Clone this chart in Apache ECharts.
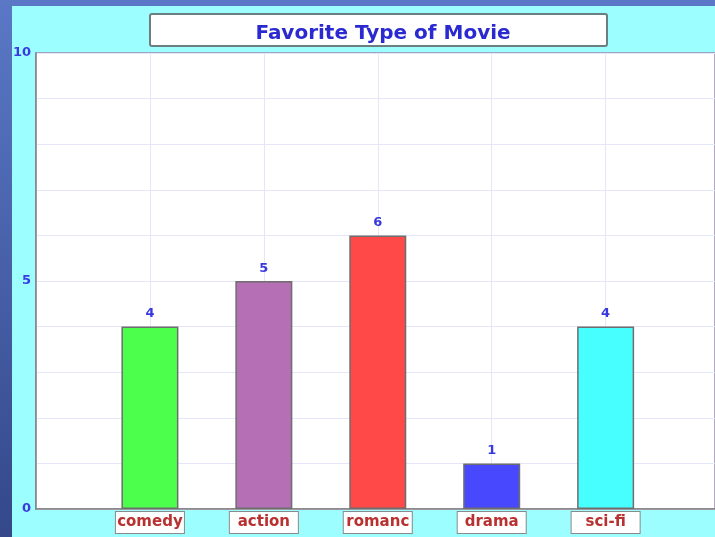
<!DOCTYPE html>
<html>
<head>
<meta charset="utf-8">
<script src="https://cdn.jsdelivr.net/npm/echarts@6/dist/echarts.min.js"></script>
<style>
html,body{margin:0;padding:0;background:#4a64b0;}
#chart{width:715px;height:537px;}
</style>
</head>
<body>
<div id="chart"></div>
<script>
const titleText = 'Favorite Type of Movie';
const categories = ['comedy', 'action', 'romance', 'drama', 'sci-fi'];
const values = [4, 5, 6, 1, 4];
const yTickLabels = [0, 5, 10];
const barColors = ['#4cff4c', '#b56fb5', '#ff4848', '#4848ff', '#48ffff'];

const FONT = 'DejaVu Sans, Verdana, sans-serif';
const chart = echarts.init(document.getElementById('chart'), null, {renderer: 'canvas'});

const option = {
  animation: false,
  backgroundColor: new echarts.graphic.LinearGradient(0, 0, 0, 1, [
    {offset: 0, color: '#5a78c6'},
    {offset: 1, color: '#34488a'}
  ]),
  graphic: [
    {type: 'rect', z: -10, shape: {x: 12, y: 6, width: 720, height: 540}, style: {fill: '#9cfeff'}},
    {type: 'rect', z: 5, shape: {x: 150, y: 14, width: 457, height: 32, r: 2},
     style: {fill: '#ffffff', stroke: '#6c7f80', lineWidth: 2}}
  ],
  title: {
    text: titleText,
    left: 378,
    top: 19,
    textAlign: 'center',
    z: 10,
    textStyle: {fontFamily: FONT, fontWeight: 'bold', fontSize: 20, color: '#2a2ad0'}
  },
  grid: {
    left: 36, top: 53, right: 0, bottom: 28,
    show: true, backgroundColor: '#ffffff', borderColor: '#9a8aaa', borderWidth: 1.5
  },
  xAxis: {
    type: 'value', min: 0, max: 5.96, interval: 1,
    axisLine: {show: true, onZero: false, lineStyle: {color: '#808080', width: 1.5}},
    axisTick: {show: false},
    splitLine: {show: true, lineStyle: {color: '#e6e6fa', width: 1}},
    axisLabel: {
      customValues: [1, 2, 3, 4, 5],
      formatter: v => categories[Math.round(v) - 1] || '',
      margin: 3,
      color: '#b83030',
      fontFamily: FONT,
      fontWeight: 'bold',
      fontSize: 15,
      lineHeight: 17,
      width: 68,
      overflow: 'truncate',
      ellipsis: '',
      align: 'center',
      backgroundColor: '#ffffff',
      borderColor: '#8a8a8a',
      borderWidth: 1,
      padding: [2, 0, 2, 0]
    }
  },
  yAxis: {
    type: 'value', min: 0, max: 10, interval: 1,
    axisLine: {show: true, lineStyle: {color: '#808080', width: 1.5}},
    axisTick: {show: false},
    splitLine: {show: true, lineStyle: {color: '#e6e6fa', width: 1}},
    axisLabel: {
      formatter: v => (yTickLabels.indexOf(v) >= 0 ? String(v) : ''),
      margin: 5,
      color: '#3a3ae0',
      fontFamily: FONT,
      fontWeight: 'bold',
      fontSize: 13
    }
  },
  series: [{
    type: 'bar',
    barWidth: 57,
    data: values.map((v, i) => ({value: [i + 1, v], itemStyle: {color: barColors[i]}})),
    itemStyle: {borderColor: '#6e6e6e', borderWidth: 1.5},
    label: {
      show: true, position: 'top', distance: 6,
      formatter: p => p.value[1],
      color: '#3838e0',
      fontFamily: FONT,
      fontWeight: 'bold',
      fontSize: 13
    }
  }]
};
chart.setOption(option);
</script>
</body>
</html>
